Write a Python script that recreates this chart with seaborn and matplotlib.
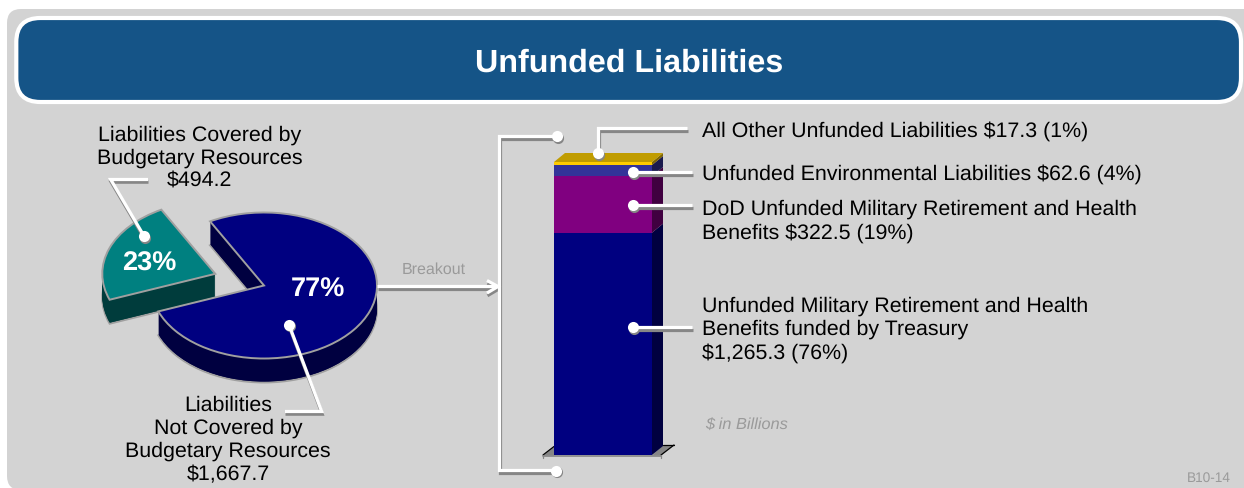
import numpy as np
import pandas as pd
import seaborn as sns
import matplotlib.pyplot as plt
from matplotlib.patches import FancyBboxPatch, Polygon

pie_names = ['Covered', 'Not covered']
pie_values = [494.2, 1667.7]
pie_percents = ['23%', '77%']

bar_names = ['Treasury', 'DoD', 'Environmental', 'Other']
bar_values = [1265.3, 322.5, 62.6, 17.3]

W, H = 1244, 489
PANEL = '#d3d3d3'
HEADER = '#155487'
SHADOW = '#868686'
TEXT_GREY = '#9a9a9a'

pie_face = ['#008080', '#000080']
pie_dark = ['#003c3c', '#000040']
bar_face = ['#000080', '#800080', '#333399', '#ffcc00']
bar_side = ['#000040', '#400040', '#1a1a4d', '#806600']

sns.set_theme(style='white')
plt.rcParams['font.family'] = ['Liberation Sans', 'DejaVu Sans']
plt.rcParams['text.hinting'] = 'none'

fig = plt.figure(figsize=(W / 100, H / 100), dpi=100, facecolor='white')


def pixel_axes(left, top, right, bottom, zorder):
    ax = fig.add_axes([left / W, 1 - bottom / H, (right - left) / W, (bottom - top) / H], zorder=zorder)
    ax.patch.set_alpha(0)
    ax.set_axis_off()
    return ax


# background panel and header, in pixels
bg = pixel_axes(0, 0, W, H, 0)
bg.set_xlim(0, W)
bg.set_ylim(H, 0)
bg.add_patch(FancyBboxPatch((19, 22), 1260, 457, boxstyle='round,pad=12,rounding_size=14', fc=PANEL, ec='none'))
bg.add_patch(FancyBboxPatch((36.3, 39), 1184.7, 44, boxstyle='round,pad=20,rounding_size=24', fc=HEADER, ec='white', lw=3))
# floor below the bar
bg.add_patch(Polygon([(543, 456.5), (554, 448), (554, 456.5)], fc=SHADOW, ec='none'))
bg.add_patch(Polygon([(652, 456.5), (663, 446), (674, 446), (661, 456.5)], fc=SHADOW, ec='none'))
bg.plot([543, 554], [456, 447.5], color='black', lw=0.9)
bg.plot([663, 674], [446, 446], color='black', lw=0.9)
bg.plot([661, 674], [456, 446], color='black', lw=0.9)
bg.plot([543, 543], [456, 459], color=SHADOW, lw=0.9)
bg.plot([661, 661], [456, 459], color=SHADOW, lw=0.9)
bg.plot([543, 661], [456.5, 456.5], color=SHADOW, lw=1.2)

# pie: a stack of dark pies for the thickness, the bright one on top
pie_ax = pixel_axes(151, 213.5, 377, 359.5, 1)
depth = 24 / 73
explode = [0.46, 0]
for offset in np.linspace(depth, 0, 25):
    is_top = offset == 0
    is_bottom = offset == depth
    edge = {'edgecolor': '#a0a0a0', 'linewidth': 1.4} if is_top or is_bottom else {'linewidth': 0}
    pie_ax.pie(pie_values, startangle=118.5, explode=explode, center=(0, -offset), radius=1,
               colors=pie_face if is_top else pie_dark, wedgeprops=edge, normalize=True)
pie_ax.set_aspect('auto')
pie_ax.set_xlim(-1, 1)
pie_ax.set_ylim(-1, 1)

# stacked bar, tallest cumulative segment first so the shorter ones sit in front
tops = np.cumsum(bar_values)
bottoms = tops - np.array(bar_values)
total = tops[-1]
bar_ax = pixel_axes(554, 163, 652, 456, 1)
bar_df = pd.DataFrame({'group': 'Unfunded', 'segment': bar_names, 'top': tops})
sns.barplot(data=bar_df, x='group', y='top', hue='segment', hue_order=bar_names[::-1],
            palette=dict(zip(bar_names, bar_face)), dodge=False, width=1, saturation=1,
            linewidth=0, legend=False, ax=bar_ax)
bar_ax.set_xlim(-0.5, 0.5)
bar_ax.set_ylim(0, total)
bar_ax.set_axis_off()

# right side and top of the bar
dx = 11 / 98
dy = 9 / 293 * total
for b, t, col in zip(bottoms, tops, bar_side):
    bar_ax.fill([0.5, 0.5 + dx, 0.5 + dx, 0.5], [b, b + dy, t + dy, t], color=col, lw=0, clip_on=False)
bar_ax.fill([-0.5, -0.5 + dx, 0.5 + dx, 0.5], [total, total + dy, total + dy, total],
            color='#c09c00', lw=0, clip_on=False)

# everything on top: leader lines and text
top = pixel_axes(0, 0, W, H, 2)
top.set_xlim(0, W)
top.set_ylim(H, 0)


def leader(xs, ys, dot=True):
    xs, ys = np.array(xs, float), np.array(ys, float)
    top.plot(xs + 0.5, ys + 2.7, color=SHADOW, lw=2.3, solid_capstyle='butt', solid_joinstyle='miter', zorder=3)
    if dot:
        top.plot(xs[0] + 0.5, ys[0] + 1.5, 'o', color=SHADOW, ms=8, mew=0, zorder=3)
    top.plot(xs, ys, color='white', lw=2.3, solid_capstyle='butt', solid_joinstyle='miter', zorder=4)
    if dot:
        top.plot(xs[0], ys[0], 'o', color='white', ms=8, mew=0, zorder=4)


leader([557, 499, 499, 556], [137, 137, 471, 471], dot=False)
top.plot(557.5, 138.5, 'o', color=SHADOW, ms=8, mew=0, zorder=3)
top.plot(557, 137, 'o', color='white', ms=8, mew=0, zorder=4)
top.plot(556.5, 473, 'o', color=SHADOW, ms=8, mew=0, zorder=3)
top.plot(556, 471.5, 'o', color='white', ms=8, mew=0, zorder=4)
leader([598, 598, 687], [154, 129, 129])
leader([633, 692], [173, 173])
leader([633, 692], [206, 206])
leader([633, 692], [328, 328])
leader([144, 110.7, 148], [237, 180.5, 180.5])
leader([289, 321.7, 285], [325.7, 412.5, 412.5])
leader([377, 497], [287, 287], dot=False)
leader([487, 498, 487], [281.5, 287.5, 294], dot=False)

FS = 15.4
label_font = dict(fontsize=FS, color='black', linespacing=1.235)
top.text(199.5, 158, 'Liabilities Covered by\nBudgetary Resources\n$494.2', ha='center', va='center', **label_font)
top.text(228, 440, 'Liabilities\nNot Covered by\nBudgetary Resources\n$1,667.7', ha='center', va='center', **label_font)
top.text(702, 131.5, 'All Other Unfunded Liabilities $17.3 (1%)', va='center', **label_font)
top.text(702, 174.5, 'Unfunded Environmental Liabilities $62.6 (4%)', va='center', **label_font)
top.text(702, 221, 'DoD Unfunded Military Retirement and Health\nBenefits $322.5 (19%)', va='center', **label_font)
top.text(702, 329.5, 'Unfunded Military Retirement and Health\nBenefits funded by Treasury\n$1,265.3 (76%)', va='center', **label_font)
top.text(629, 63.5, 'Unfunded Liabilities', ha='center', va='center', color='white', fontsize=23.2, fontweight='bold')
top.text(149, 264, pie_percents[0], ha='center', va='center', color='white', fontsize=19.5, fontweight='bold')
top.text(318, 290, pie_percents[1], ha='center', va='center', color='white', fontsize=19.5, fontweight='bold')
top.text(433.5, 270, 'Breakout', ha='center', va='center', color=TEXT_GREY, fontsize=11.5)
top.text(705, 424.5, '$ in Billions', va='center', color=TEXT_GREY, fontsize=11.8, style='italic')
top.text(1208.5, 478, 'B10-14', ha='center', va='center', color=TEXT_GREY, fontsize=9.8)

fig.savefig('out.png', dpi=100)
